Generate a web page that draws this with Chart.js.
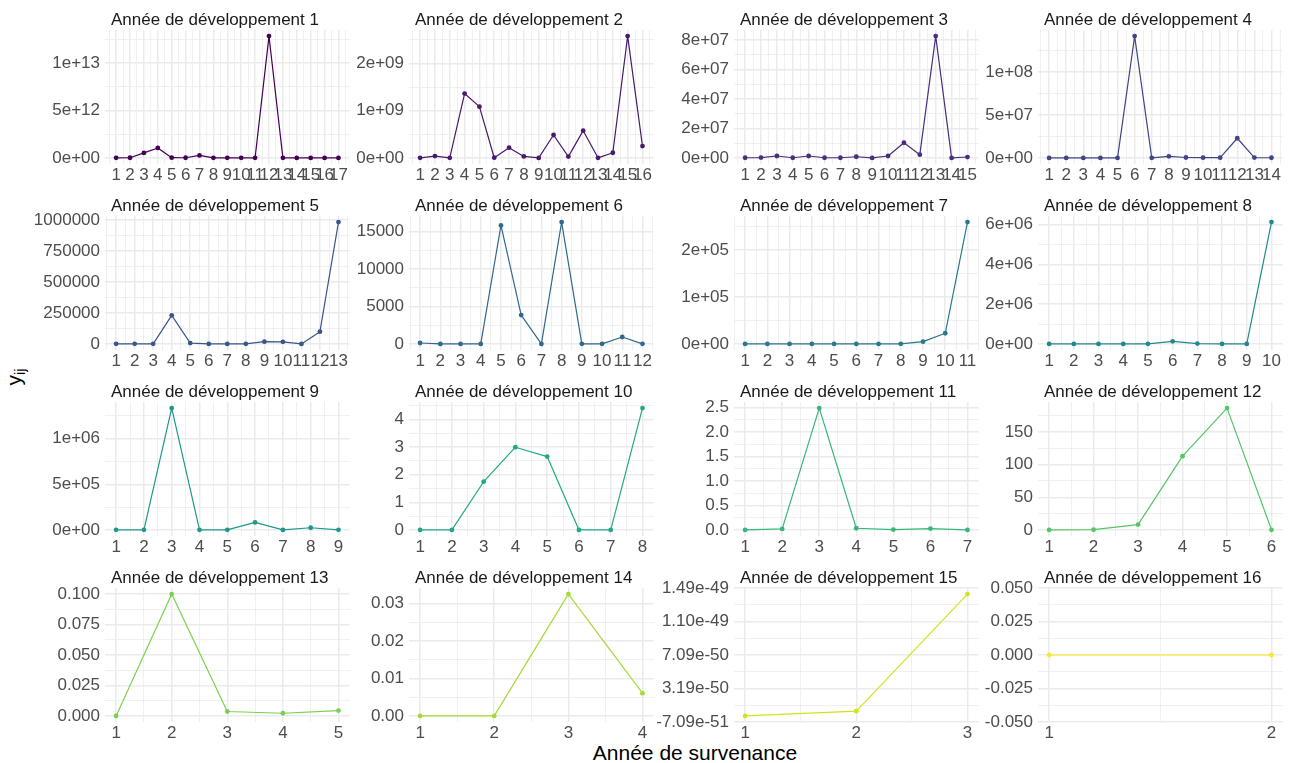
<!DOCTYPE html>
<html lang="fr">
<head>
<meta charset="utf-8">
<title>y_ij par année de développement</title>
<script src="https://cdn.jsdelivr.net/npm/chart.js@4.4.1/dist/chart.umd.min.js"></script>
<style>
  html, body { margin: 0; padding: 0; background: #ffffff; }
  #figure {
    position: relative; width: 1291px; height: 763px; overflow: hidden;
    background: #ffffff; font-family: "Liberation Sans", Arial, sans-serif;
  }
  #figure canvas { position: absolute; }
  .axis-title {
    position: absolute; color: #000000; font-size: 21px; white-space: nowrap; text-align: center;
  }
  #xTitle { left: 495px; top: 742px; width: 400px; line-height: 21px; }
  #yTitle { left: -16px; top: 365px; width: 60px; height: 24px; line-height: 24px; transform: rotate(-90deg); }
  #yTitle sub { font-size: 14px; line-height: 0; vertical-align: -4px; }
</style>
</head>
<body>
<div id="figure">
  <div id="xTitle" class="axis-title">Année de survenance</div>
  <div id="yTitle" class="axis-title">y<sub>ij</sub></div>
</div>
<script>
// ---- data: one series per development year, indexed by année de survenance 1..n ----
const dev1  = [1.2e10, 2.0e10, 5.3e11, 1.05e12, 3.0e10, 2.0e10, 2.6e11, 1.0e10, 8.0e9, 6.0e9, 1.0e10, 1.285e13, 5.0e9, 4.0e9, 3.0e9, 2.0e9, 1.0e9];
const dev2  = [5e6, 4.2e7, 6e6, 1.365e9, 1.088e9, 8e6, 2.2e8, 3.5e7, 4e6, 4.88e8, 3.2e7, 5.8e8, 6e6, 1.13e8, 2.58e9, 2.54e8];
const dev3  = [2e5, 3e5, 1.4e6, 2e5, 1.4e6, 2e5, 2e5, 9e5, 1e5, 1.4e6, 1.04e7, 2.3e6, 8.28e7, 1e5, 7e5];
const dev4  = [1e5, 1e5, 1e5, 1e5, 1e5, 1.42e8, 2e5, 2.0e6, 6e5, 4e5, 4e5, 2.3e7, 5e5, 3e5];
const dev5  = [2000, 1500, 1500, 232000, 8000, 1000, 1000, 1500, 19000, 18000, 1000, 100000, 985000];
const dev6  = [130, 10, 10, 10, 15850, 3870, 10, 16300, 20, 20, 935, 20];
const dev7  = [200, 200, 200, 200, 200, 200, 200, 300, 5000, 22900, 260000];
const dev8  = [5000, 5000, 5000, 5000, 8000, 133000, 20000, 5000, 5000, 6.12e6];
const dev9  = [3000, 3000, 1.332e6, 3000, 3000, 84000, 2000, 25500, 3000];
const dev10 = [0, 0, 1.745, 2.994, 2.655, 0, 0, 4.41];
const dev11 = [0, 0.02, 2.49, 0.034, 0.007, 0.027, 0];
const dev12 = [0, 0.3, 8.2, 113.1, 186.8, 0.2];
const dev13 = [0, 0.1, 0.0036, 0.0022, 0.0044];
const dev14 = [0, 0, 0.0325, 0.00607];
const dev15 = [0, 5.5e-51, 1.419e-49];
const dev16 = [0, 0];

const seriesValues = [dev1, dev2, dev3, dev4, dev5, dev6, dev7, dev8,
                      dev9, dev10, dev11, dev12, dev13, dev14, dev15, dev16];

const panelTitles = [
  'Année de développement 1', 'Année de développement 2', 'Année de développement 3', 'Année de développement 4',
  'Année de développement 5', 'Année de développement 6', 'Année de développement 7', 'Année de développement 8',
  'Année de développement 9', 'Année de développement 10', 'Année de développement 11', 'Année de développement 12',
  'Année de développement 13', 'Année de développement 14', 'Année de développement 15', 'Année de développement 16'
];

// y-axis breaks and their printed labels, per panel
const yBreaks = [
  [0, 5e12, 1e13],
  [0, 1e9, 2e9],
  [0, 2e7, 4e7, 6e7, 8e7],
  [0, 5e7, 1e8],
  [0, 250000, 500000, 750000, 1000000],
  [0, 5000, 10000, 15000],
  [0, 1e5, 2e5],
  [0, 2e6, 4e6, 6e6],
  [0, 5e5, 1e6],
  [0, 1, 2, 3, 4],
  [0, 0.5, 1, 1.5, 2, 2.5],
  [0, 50, 100, 150],
  [0, 0.025, 0.05, 0.075, 0.1],
  [0, 0.01, 0.02, 0.03],
  [-7.09e-51, 3.19e-50, 7.09e-50, 1.10e-49, 1.49e-49],
  [-0.05, -0.025, 0, 0.025, 0.05]
];
const yBreakLabels = [
  ['0e+00', '5e+12', '1e+13'],
  ['0e+00', '1e+09', '2e+09'],
  ['0e+00', '2e+07', '4e+07', '6e+07', '8e+07'],
  ['0e+00', '5e+07', '1e+08'],
  ['0', '250000', '500000', '750000', '1000000'],
  ['0', '5000', '10000', '15000'],
  ['0e+00', '1e+05', '2e+05'],
  ['0e+00', '2e+06', '4e+06', '6e+06'],
  ['0e+00', '5e+05', '1e+06'],
  ['0', '1', '2', '3', '4'],
  ['0.0', '0.5', '1.0', '1.5', '2.0', '2.5'],
  ['0', '50', '100', '150'],
  ['0.000', '0.025', '0.050', '0.075', '0.100'],
  ['0.00', '0.01', '0.02', '0.03'],
  ['-7.09e-51', '3.19e-50', '7.09e-50', '1.10e-49', '1.49e-49'],
  ['-0.050', '-0.025', '0.000', '0.025', '0.050']
];

// viridis palette, one colour per development year
const panelColours = ['#440154', '#481A6C', '#472F7D', '#414487', '#39568C', '#31688E', '#2A788E', '#23888E',
                      '#1F988B', '#22A884', '#35B779', '#54C568', '#7AD151', '#A5DB36', '#D2E21B', '#FDE725'];

// ---- layout of the 4 x 4 facet grid ----
const FONT = '"Liberation Sans", Arial, sans-serif';
const PANEL_W = 247, PANEL_H = 134;
const COL_LEFT = [105, 409, 734, 1038];
const ROW_TOP = [30, 216, 402, 588];
const AXIS_W = [101, 57, 78, 57];
const STRIP_H = 26, XAXIS_H = 20;
const GRID_COLOUR = '#EBEBEB';

Chart.defaults.font.family = FONT;
Chart.defaults.font.size = 17;
Chart.defaults.color = '#4D4D4D';

// linear scale whose ticks (major breaks + minor grid positions) are supplied by the panel
class FacetScale extends Chart.LinearScale {
  buildTicks() {
    const sets = this.chart.canvas.facetTicks;
    return sets ? sets[this.axis].map(t => Object.assign({}, t)) : [];
  }
}
FacetScale.id = 'facet';
FacetScale.defaults = Chart.LinearScale.defaults;
Chart.register(FacetScale);

// major breaks with labels, plus minor breaks halfway between them (inside the limits)
function breaksWithMinors(majors, labels, lo, hi) {
  const out = [];
  const step = majors.length > 1 ? majors[1] - majors[0] : 1;
  const ext = [majors[0] - step].concat(majors, [majors[majors.length - 1] + step]);
  for (let j = 1; j < ext.length; j++) {
    const mid = (ext[j - 1] + ext[j]) / 2;
    if (mid >= lo && mid <= hi) out.push({ value: mid, minor: true, text: '' });
    if (j < ext.length - 1) out.push({ value: ext[j], minor: false, text: labels[j - 1] });
  }
  return out;
}

// strip title drawn above each panel, left aligned
const stripTitle = {
  id: 'stripTitle',
  afterDraw(chart, args, opts) {
    const { ctx, chartArea } = chart;
    ctx.save();
    ctx.font = '17px ' + FONT;
    ctx.fillStyle = '#1A1A1A';
    ctx.textAlign = 'left';
    ctx.textBaseline = 'alphabetic';
    ctx.fillText(opts.text, chartArea.left + 6, chartArea.top - 5);
    ctx.restore();
  }
};

const gridWidth = ctx => (ctx.tick && ctx.tick.minor) ? 0.75 : 1.5;
const tickText = (value, index, ticks) => ticks[index].text || '';

const figure = document.getElementById('figure');

seriesValues.forEach((values, i) => {
  const row = Math.floor(i / 4), col = i % 4;
  const n = values.length;

  // x: années de survenance 1..n with 5% expansion
  const xLo = 1 - 0.05 * (n - 1), xHi = n + 0.05 * (n - 1);
  const xMajors = values.map((v, j) => j + 1);
  const xTicks = breaksWithMinors(xMajors, xMajors.map(String), xLo, xHi);

  // y: data range with 5% expansion (zero-width range opened to +/-0.05)
  const vMin = Math.min(...values), vMax = Math.max(...values);
  const span = vMax - vMin;
  let yLo = span > 0 ? vMin - 0.05 * span : vMin - 0.05;
  let yHi = span > 0 ? vMax + 0.05 * span : vMax + 0.05;
  yLo = Math.min(yLo, yBreaks[i][0]);
  yHi = Math.max(yHi, yBreaks[i][yBreaks[i].length - 1]);
  const yTicks = breaksWithMinors(yBreaks[i], yBreakLabels[i], yLo, yHi);

  const canvas = document.createElement('canvas');
  const w = AXIS_W[col] + PANEL_W, h = STRIP_H + PANEL_H + XAXIS_H;
  canvas.width = w; canvas.height = h;
  canvas.style.left = (COL_LEFT[col] - AXIS_W[col]) + 'px';
  canvas.style.top = (ROW_TOP[row] - STRIP_H) + 'px';
  canvas.style.width = w + 'px'; canvas.style.height = h + 'px';
  canvas.facetTicks = { x: xTicks, y: yTicks };
  figure.appendChild(canvas);

  const colour = panelColours[i];
  new Chart(canvas, {
    type: 'line',
    data: {
      datasets: [{
        data: values.map((v, j) => ({ x: j + 1, y: v })),
        borderColor: colour,
        backgroundColor: colour,
        pointBackgroundColor: colour,
        borderWidth: 1.2,
        borderJoinStyle: 'round',
        pointRadius: 2.4,
        pointHoverRadius: 2.4,
        pointBorderWidth: 0,
        tension: 0,
        fill: false
      }]
    },
    options: {
      responsive: false,
      animation: false,
      devicePixelRatio: 1,
      events: [],
      layout: { padding: { top: STRIP_H, left: 0, right: 0, bottom: 0 } },
      plugins: {
        legend: { display: false },
        tooltip: { enabled: false },
        title: { display: false },
        stripTitle: { text: panelTitles[i] }
      },
      scales: {
        x: {
          type: 'facet', position: 'bottom', min: xLo, max: xHi,
          border: { display: false },
          grid: { color: GRID_COLOUR, lineWidth: gridWidth, drawTicks: false },
          ticks: { autoSkip: false, maxRotation: 0, minRotation: 0, padding: 1, callback: tickText },
          afterFit: s => { s.height = XAXIS_H; s.paddingLeft = 0; s.paddingRight = 0; }
        },
        y: {
          type: 'facet', position: 'left', min: yLo, max: yHi,
          border: { display: false },
          grid: { color: GRID_COLOUR, lineWidth: gridWidth, drawTicks: false },
          ticks: { autoSkip: false, padding: 5, callback: tickText },
          afterFit: s => { s.width = AXIS_W[col]; s.paddingTop = 0; s.paddingBottom = 0; }
        }
      }
    },
    plugins: [stripTitle]
  });
});
</script>
</body>
</html>
